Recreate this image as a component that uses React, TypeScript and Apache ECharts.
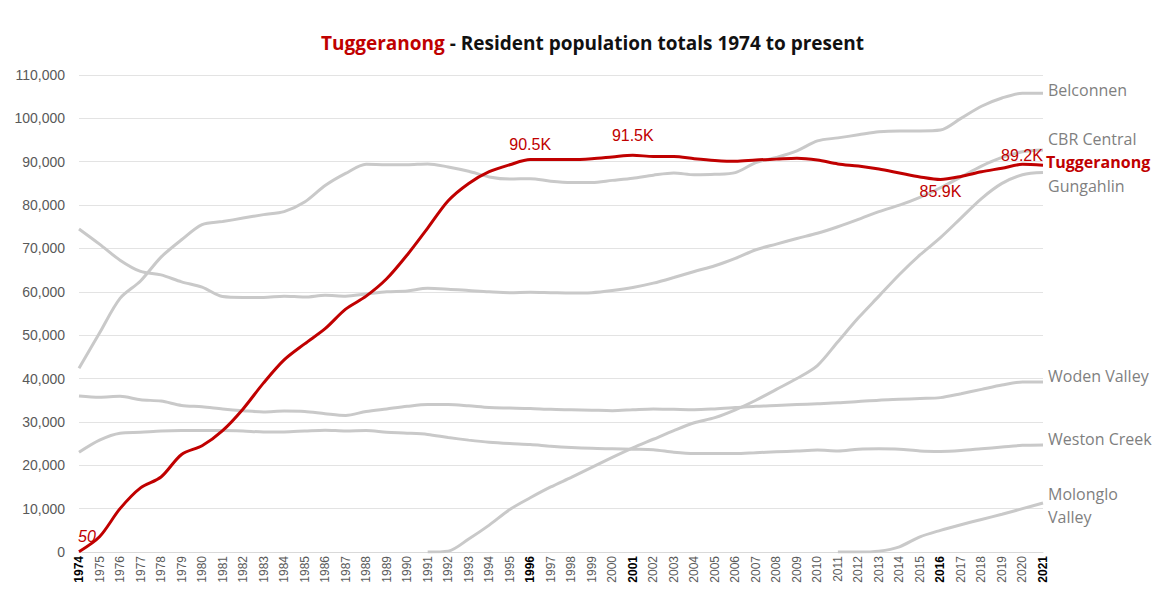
import React, { useEffect, useRef } from "react";
import * as echarts from "echarts";

const years = Array.from({ length: 48 }, (_, i) => String(1974 + i));
const boldYears = ["1974", "1996", "2001", "2016", "2021"];
const yTicks = { min: 0, max: 110000, interval: 10000 };

const tuggeranong = [50, 3500, 10000, 14800, 17300, 22500, 24500, 28000, 33000, 39000, 44300, 48000, 51500, 56000, 59000, 63000, 68500, 74700, 81000, 85000, 87700, 89300, 90500, 90500, 90500, 90700, 91100, 91500, 91200, 91200, 90700, 90300, 90100, 90400, 90600, 90800, 90400, 89500, 89000, 88300, 87400, 86500, 85900, 86600, 87700, 88500, 89400, 89200];
const belconnen = [42400, 50500, 58500, 62500, 68000, 72000, 75500, 76200, 77000, 77800, 78500, 80700, 84500, 87300, 89400, 89300, 89300, 89500, 88800, 87800, 86500, 86000, 86100, 85500, 85200, 85200, 85700, 86200, 86900, 87400, 87000, 87100, 87500, 89800, 91000, 92500, 94800, 95500, 96200, 96900, 97100, 97100, 97300, 100000, 102800, 104700, 105800, 105800];
const cbrCentral = [74500, 71000, 67300, 64700, 63900, 62300, 61100, 58900, 58700, 58700, 59000, 58800, 59200, 59000, 59500, 60000, 60200, 60800, 60600, 60300, 60000, 59800, 59900, 59800, 59700, 59800, 60300, 61000, 62000, 63300, 64700, 66000, 67700, 69700, 71000, 72300, 73500, 75000, 76700, 78500, 80000, 81800, 84000, 86500, 89000, 91000, 92300, 92700];
const gungahlin = [null, null, null, null, null, null, null, null, null, null, null, null, null, null, null, null, null, 0, 200, 3000, 6200, 9800, 12500, 15000, 17200, 19500, 21800, 24000, 26000, 28000, 29800, 31000, 32800, 35000, 37500, 40000, 43000, 48500, 54000, 59000, 64000, 68500, 72500, 77000, 81500, 85000, 87000, 87500];
const wodenValley = [36000, 35700, 35900, 35100, 34800, 33800, 33500, 33000, 32600, 32300, 32500, 32400, 31900, 31500, 32400, 33000, 33600, 34000, 34000, 33700, 33300, 33200, 33100, 32900, 32800, 32700, 32600, 32800, 33000, 32900, 32800, 33000, 33300, 33600, 33800, 34000, 34200, 34400, 34700, 35000, 35200, 35400, 35600, 36500, 37500, 38500, 39200, 39200];
const westonCreek = [23000, 25800, 27400, 27600, 27900, 28000, 28000, 28000, 27900, 27700, 27700, 27900, 28100, 27900, 28000, 27600, 27400, 27100, 26400, 25800, 25300, 25000, 24800, 24400, 24100, 23900, 23800, 23700, 23600, 23000, 22700, 22700, 22700, 22900, 23100, 23300, 23500, 23300, 23700, 23800, 23700, 23300, 23200, 23400, 23800, 24200, 24600, 24700];
const molongloValley = [null, null, null, null, null, null, null, null, null, null, null, null, null, null, null, null, null, null, null, null, null, null, null, null, null, null, null, null, null, null, null, null, null, null, null, null, null, 0, 0, 200, 1200, 3500, 5000, 6300, 7500, 8700, 10000, 11300];

const calloutYears = ["1974", "1996", "2001", "2016", "2021"];
const calloutTexts = ["50", "90.5K", "91.5K", "85.9K", "89.2K"];

const RED = "#c00000";
const GRAY_LINE = "#c9c9c9";
const GRAY_TEXT = "#7f7f7f";

export default function App() {
  const ref = useRef<HTMLDivElement>(null);
  useEffect(() => {
    if (!ref.current) return;
    const chart = echarts.init(ref.current, null, { renderer: "svg" });

    const grayDefs: [string, (number | null)[], number, string?][] = [
      ["Belconnen", belconnen, -3],
      ["CBR Central", cbrCentral, -11],
      ["Gungahlin", gungahlin, 13],
      ["Woden Valley", wodenValley, -6],
      ["Weston Creek", westonCreek, -6],
      ["Molonglo Valley", molongloValley, 3, "Molonglo\nValley"],
    ];

    const graySeries = grayDefs.map(([name, data, dy, txt]) => ({
      name,
      type: "line",
      data,
      smooth: 0.3,
      showSymbol: false,
      symbol: "none",
      connectNulls: false,
      lineStyle: { color: GRAY_LINE, width: 3 },
      z: 2,
      silent: true,
      endLabel: {
        show: true,
        formatter: () => txt || name,
        color: GRAY_TEXT,
        fontFamily: "Open Sans",
        fontSize: 16,
        lineHeight: txt ? 23 : 16,
        offset: [0, dy],
        distance: 5,
      },
    }));

    const labelCfg: Record<string, any> = {
      "1974": { position: "top", offset: [8, -2], fontStyle: "italic", fontSize: 16 },
      "1996": { position: "top", offset: [0, -2] },
      "2001": { position: "top", offset: [0, -6] },
      "2016": { position: "bottom", offset: [0, -2] },
      "2021": { position: "top", offset: [-21, 4] },
    };

    const redData = tuggeranong.map((v, i) => {
      const y = years[i];
      const k = calloutYears.indexOf(y);
      if (k < 0) return v;
      return {
        value: v,
        label: {
          show: true,
          formatter: calloutTexts[k],
          color: RED,
          fontFamily: "Liberation Sans",
          fontSize: 16,
          distance: 5,
          ...labelCfg[y],
        },
      };
    });

    chart.setOption({
      animation: false,
      title: {
        text: "{r|Tuggeranong}{k| - Resident population totals 1974 to present}",
        left: 316,
        top: 28,
        textStyle: {
          rich: {
            r: { color: RED, fontFamily: "Open Sans", fontWeight: "bold", fontSize: 19 },
            k: { color: "#111", fontFamily: "Open Sans", fontWeight: "bold", fontSize: 19 },
          },
        },
      },
      grid: { left: 79, right: 112, top: 75, bottom: 37, containLabel: false },
      xAxis: {
        type: "category",
        data: years,
        boundaryGap: false,
        axisLine: { lineStyle: { color: "#d9d9d9", width: 1 } },
        axisTick: { show: false },
        axisLabel: {
          rotate: 90,
          interval: 0,
          margin: 4,
          color: "#595959",
          fontFamily: "Liberation Sans",
          fontSize: 12,
          formatter: (v: string) => (boldYears.includes(v) ? `{b|${v}}` : v),
          rich: { b: { fontWeight: "bold", color: "#000", fontFamily: "Liberation Sans", fontSize: 12 } },
        },
        splitLine: { show: false },
      },
      yAxis: {
        type: "value",
        min: yTicks.min,
        max: yTicks.max,
        interval: yTicks.interval,
        axisLine: { show: false },
        axisTick: { show: false },
        axisLabel: {
          margin: 14,
          color: "#595959",
          fontFamily: "Liberation Sans",
          fontSize: 14,
          formatter: (v: number) => v.toLocaleString("en-US"),
        },
        splitLine: { lineStyle: { color: "#e3e3e3", width: 1 } },
      },
      series: [
        ...graySeries,
        {
          name: "Tuggeranong",
          type: "line",
          data: redData,
          smooth: 0.3,
          showSymbol: true,
          symbol: "circle",
          symbolSize: 1,
          itemStyle: { color: "rgba(0,0,0,0)" },
          label: { show: false },
          lineStyle: { color: RED, width: 3 },
          z: 5,
          silent: true,
          endLabel: {
            show: true,
            formatter: "Tuggeranong",
            color: RED,
            fontFamily: "Open Sans",
            fontWeight: "bold",
            fontSize: 16,
            lineHeight: 16,
            offset: [-2, -3],
            distance: 5,
          },
        },
      ],
    });
    return () => chart.dispose();
  }, []);

  return (
    <div
      ref={ref}
      style={{ position: "fixed", left: 0, top: 0, width: 1155, height: 589, background: "#fff" }}
    />
  );
}
